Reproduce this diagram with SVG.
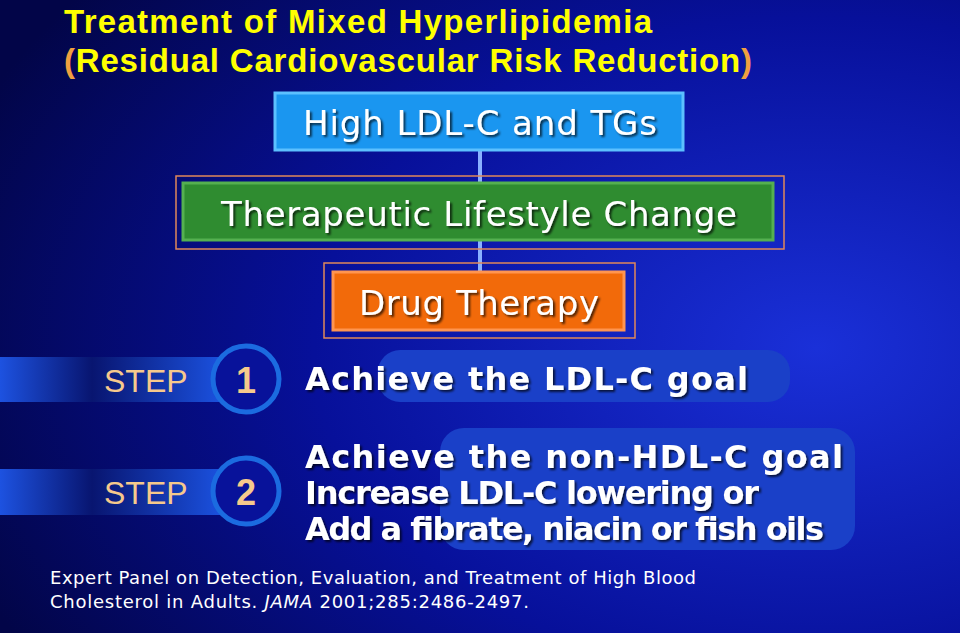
<svg xmlns="http://www.w3.org/2000/svg" width="960" height="633" viewBox="0 0 960 633">
<defs>
<radialGradient id="bg" cx="0.85" cy="0.55" r="0.95">
<stop offset="0" stop-color="#1a30d8"/><stop offset="0.55" stop-color="#07109a"/><stop offset="1" stop-color="#020548"/>
</radialGradient>
<linearGradient id="band" x1="0" x2="1" y1="0" y2="0">
<stop offset="0" stop-color="#1d52e0"/><stop offset="0.4" stop-color="#081570"/><stop offset="1" stop-color="#1c55e6"/>
</linearGradient>
<filter id="sh" x="-10%" y="-10%" width="130%" height="140%"><feDropShadow dx="2" dy="2" stdDeviation="1" flood-color="#000" flood-opacity="0.7"/></filter>
<style>
.t{font-family:"DejaVu Sans",Verdana,sans-serif;fill:#fff;filter:url(#sh)}
.b{font-family:"DejaVu Sans",Verdana,sans-serif;font-weight:bold;fill:#fff;font-size:32px;filter:url(#sh)}
.st{font-family:"Liberation Sans",Arial,sans-serif;fill:#f6c98c;font-size:32px}
.num{font-family:"Liberation Sans",Arial,sans-serif;font-weight:bold;fill:#f6c98c;font-size:36px;text-anchor:middle}
.frame{fill:none;stroke:#e0885a;stroke-width:1.5}
.circ{fill:#08129a;stroke:#1b6be0;stroke-width:5}
</style>
</defs>
<rect width="960" height="633" fill="url(#bg)"/>
<g id="title" font-family="Liberation Sans,Arial,sans-serif" font-weight="bold" font-size="33" fill="#ffff00">
<text x="64" y="33" textLength="588">Treatment of Mixed Hyperlipidemia</text>
<text x="64" y="72" textLength="688"><tspan fill="#f0a040">(</tspan>Residual Cardiovascular Risk Reduction<tspan fill="#f0a040">)</tspan></text>
</g>
<g id="connectors" stroke="#8ab0ff" stroke-width="4">
<line x1="480" y1="150" x2="480" y2="183"/>
<line x1="480" y1="240" x2="480" y2="272"/>
</g>
<g id="high">
<rect x="275" y="93" width="408" height="57" fill="#1a96f0" stroke="#5cc0ff" stroke-width="3"/>
<text class="t" x="480" y="135" font-size="34" text-anchor="middle" textLength="354">High LDL-C and TGs</text>
</g>
<g id="tlc">
<rect class="frame" x="176" y="176" width="608" height="73"/>
<rect x="183" y="183" width="590" height="57" fill="#2f8c30" stroke="#55b050" stroke-width="3"/>
<text class="t" x="479" y="226" font-size="34" text-anchor="middle" textLength="516">Therapeutic Lifestyle Change</text>
</g>
<g id="drug">
<rect class="frame" x="324" y="263" width="311" height="75"/>
<rect x="333" y="272" width="291" height="58" fill="#f26a0a" stroke="#ff9550" stroke-width="3"/>
<text class="t" x="479" y="315" font-size="34" text-anchor="middle" textLength="240">Drug Therapy</text>
</g>
<g id="step1">
<rect x="0" y="357" width="230" height="45" fill="url(#band)"/>
<rect x="378" y="350" width="412" height="52" rx="22" fill="#1a40c8"/>
<text class="st" x="104" y="392">STEP</text>
<circle class="circ" cx="246" cy="379" r="33"/>
<text class="num" x="246" y="393">1</text>
<text class="b" x="305" y="390" textLength="443">Achieve the LDL-C goal</text>
</g>
<g id="step2">
<rect x="0" y="469" width="230" height="46" fill="url(#band)"/>
<rect x="440" y="428" width="415" height="122" rx="24" fill="#1a40c8"/>
<text class="st" x="104" y="504">STEP</text>
<circle class="circ" cx="246" cy="491" r="33"/>
<text class="num" x="246" y="505">2</text>
<text class="b" x="305" y="468" textLength="538">Achieve the non-HDL-C goal</text>
<text class="b" x="305" y="504" font-size="28" textLength="454">Increase LDL-C lowering or</text>
<text class="b" x="305" y="540" font-size="30" textLength="519">Add a fibrate, niacin or fish oils</text>
</g>
<g id="ref" font-family="DejaVu Sans,Verdana,sans-serif" font-size="18" fill="#fff">
<text x="50" y="584" textLength="646">Expert Panel on Detection, Evaluation, and Treatment of High Blood</text>
<text x="50" y="608" textLength="479">Cholesterol in Adults. <tspan font-style="italic">JAMA</tspan> 2001;285:2486-2497.</text>
</g>
</svg>
